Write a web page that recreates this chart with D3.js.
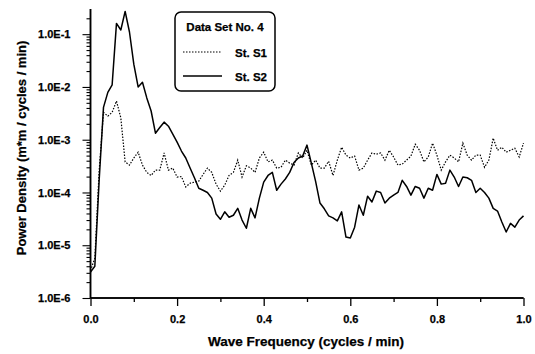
<!DOCTYPE html>
<html><head><meta charset="utf-8">
<script src="https://cdn.jsdelivr.net/npm/d3@7"></script>
<style>
html,body{margin:0;padding:0;background:#fff;}
svg text{font-family:"Liberation Sans",Arial,sans-serif;font-weight:bold;fill:#000;stroke:#000;stroke-width:0.25px;}
</style></head>
<body><svg id="c" width="535" height="354"></svg>
<script>
const frequency = d3.range(0, 101).map(i => +(i * 0.01).toFixed(2));
const seriesS1 = [3.3e-6,5.7e-6,2.6e-4,3.3e-3,2.8e-3,3.3e-3,5.4e-3,2.6e-3,3.8e-4,3.3e-4,
 4.5e-4,5.8e-4,3.3e-4,2.4e-4,2.1e-4,2.65e-4,2.65e-4,5.6e-4,2.65e-4,2.9e-4,
 1.96e-4,2.0e-4,1.27e-4,1.5e-4,1.57e-4,1.64e-4,2.2e-4,2.9e-4,2.4e-4,1.44e-4,
 1.06e-4,1.38e-4,2.1e-4,2.4e-4,4.1e-4,1.96e-4,3.2e-4,2.9e-4,2.4e-4,4.5e-4,
 5.8e-4,3.8e-4,4.1e-4,2.9e-4,3.0e-4,4.1e-4,3.6e-4,3.3e-4,5.6e-4,4.5e-4,
 6.3e-4,3.3e-4,4.1e-4,2.9e-4,2.9e-4,3.9e-4,2.1e-4,4.1e-4,7.2e-4,5.1e-4,
 4.5e-4,4.9e-4,2.65e-4,2.9e-4,4.1e-4,5.6e-4,5.3e-4,5.6e-4,4.1e-4,6.3e-4,
 4.7e-4,3.3e-4,3.45e-4,4.1e-4,4.9e-4,8.2e-4,6.3e-4,3.8e-4,4.7e-4,8.6e-4,
 5.1e-4,2.65e-4,3.8e-4,5.1e-4,4.5e-4,3.8e-4,8.6e-4,5.1e-4,4.1e-4,5.1e-4,
 5.1e-4,3.0e-4,4.1e-4,1.07e-3,6.3e-4,7.2e-4,5.8e-4,6.3e-4,6.9e-4,4.7e-4,8.6e-4];
const seriesS2 = [3.1e-6,4.0e-6,1.7e-4,4.1e-3,7.9e-3,1.1e-2,1.6e-1,1.2e-1,2.7e-1,1.1e-1,
 2.7e-2,1.0e-2,1.23e-2,6.2e-3,3.5e-3,1.33e-3,1.7e-3,2.15e-3,1.8e-3,1.28e-3,
 9.0e-4,6.1e-4,4.5e-4,2.9e-4,1.9e-4,1.2e-4,1.1e-4,1.0e-4,7.8e-5,3.9e-5,
 3.1e-5,4.3e-5,3.4e-5,3.7e-5,5.0e-5,3.0e-5,2.1e-5,5.0e-5,3.3e-5,7.8e-5,
 1.57e-4,2.1e-4,2.4e-4,1.1e-4,1.44e-4,1.8e-4,2.4e-4,3.7e-4,4.5e-4,4.9e-4,
 7.9e-4,3.6e-4,1.6e-4,6.3e-5,4.9e-5,3.6e-5,3.3e-5,2.9e-5,4.3e-5,1.43e-5,
 1.37e-5,2.2e-5,5.8e-5,3.7e-5,8.5e-5,6.6e-5,1.06e-4,1.0e-4,6.3e-5,7.8e-5,
 8.9e-5,1.0e-4,1.7e-4,1.3e-4,8.9e-5,1.3e-4,1.2e-4,7.8e-5,1.2e-4,1.1e-4,
 2.2e-4,1.44e-4,1.5e-4,2.65e-4,1.96e-4,1.3e-4,1.96e-4,1.9e-4,1.7e-4,1.0e-4,
 1.2e-4,1.0e-4,7.8e-5,5.0e-5,4.45e-5,2.75e-5,1.78e-5,2.6e-5,2.2e-5,3.0e-5,3.6e-5];
const seriesNames = ["St. S1", "St. S2"];
const legendTitle = "Data Set No. 4";
const xTickValues = [0, 0.2, 0.4, 0.6, 0.8, 1.0];
const xTickLabels = ["0.0", "0.2", "0.4", "0.6", "0.8", "1.0"];
const xMinorTicks = [0.1, 0.3, 0.5, 0.7, 0.9];
const yTickValues = [1e-6, 1e-5, 1e-4, 1e-3, 1e-2, 1e-1];
const yTickLabels = ["1.0E-6", "1.0E-5", "1.0E-4", "1.0E-3", "1.0E-2", "1.0E-1"];
const xTitle = "Wave Frequency (cycles / min)";
const yTitle = "Power Density (m*m / cycles / min)";

const svg = d3.select("#c");
const x = d3.scaleLinear().domain([0, 1]).range([90.5, 523.5]);
const y = d3.scaleLog().domain([1e-6, 0.3]).range([298, 9]);

const yMinor = [];
for (let e = -6; e <= -1; e++) for (let m = 2; m <= 9; m++) { const v = m * Math.pow(10, e); if (v <= 0.3) yMinor.push(v); }

const gx = svg.append("g").attr("transform", "translate(0,298)");
gx.call(d3.axisBottom(x).tickValues(xMinorTicks).tickSize(4).tickFormat(""));
gx.append("g").call(d3.axisBottom(x).tickValues(xTickValues).tickSize(8).tickFormat((d, i) => xTickLabels[i]));
gx.selectAll("path.domain").attr("stroke-width", 1.5).attr("d", "M90.5,0H523.5");
gx.selectAll("line").attr("stroke-width", 1.3);
gx.selectAll("text").attr("font-size", 11).attr("dy", "1.25em");

const gy = svg.append("g").attr("transform", "translate(90.5,0)");
gy.call(d3.axisLeft(y).tickValues(yMinor).tickSize(4).tickFormat(""));
gy.append("g").call(d3.axisLeft(y).tickValues(yTickValues).tickSize(8).tickFormat((d, i) => yTickLabels[i]));
gy.selectAll("path.domain").attr("stroke-width", 1.5).attr("d", "M0,9V298");
gy.selectAll("line").attr("stroke-width", 1.1);
gy.selectAll("text").attr("font-size", 11).attr("dx", "-9");

const line = d3.line().x((d, i) => x(frequency[i])).y(d => y(d));
svg.append("path").datum(seriesS1).attr("d", line).attr("fill", "none")
  .attr("stroke", "#000").attr("stroke-width", 1.2).attr("stroke-dasharray", "1.5,1.5");
svg.append("path").datum(seriesS2).attr("d", line).attr("fill", "none")
  .attr("stroke", "#000").attr("stroke-width", 1.5).attr("stroke-linejoin", "round");

svg.append("text").attr("x", 306).attr("y", 346).attr("text-anchor", "middle")
  .attr("font-size", 13.5).text(xTitle);
svg.append("text").attr("transform", "translate(26,148) rotate(-90)").attr("text-anchor", "middle")
  .attr("font-size", 13).text(yTitle);

const lg = svg.append("g");
lg.append("rect").attr("x", 175).attr("y", 12).attr("width", 100).attr("height", 79)
  .attr("rx", 6).attr("fill", "#fff").attr("stroke", "#000").attr("stroke-width", 1.5);
lg.append("text").attr("x", 225).attr("y", 31).attr("text-anchor", "middle").attr("font-size", 11.5).text(legendTitle);
const styles = [{w: 1.2, dash: "1.5,1.5"}, {w: 1.5, dash: null}];
seriesNames.forEach((n, i) => {
  const yy = 52 + i * 24;
  lg.append("line").attr("x1", 183).attr("x2", 222).attr("y1", yy).attr("y2", yy)
    .attr("stroke", "#000").attr("stroke-width", styles[i].w).attr("stroke-dasharray", styles[i].dash);
  lg.append("text").attr("x", 235).attr("y", yy + 4.5).attr("font-size", 11.5).text(n);
});
</script></body></html>
